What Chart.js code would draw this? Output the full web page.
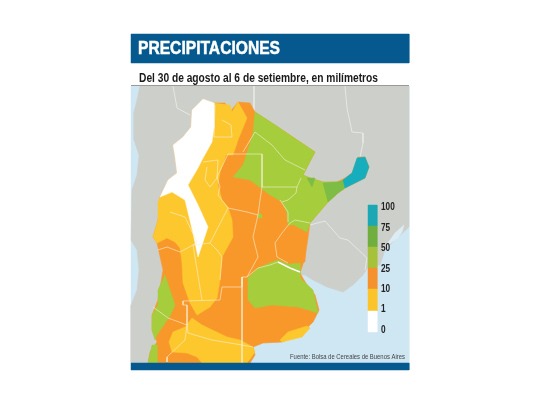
<!DOCTYPE html>
<html><head><meta charset="utf-8">
<style>html,body{margin:0;padding:0;background:#fff}canvas{display:block}</style>
<script src="https://cdn.jsdelivr.net/npm/chart.js@4"></script>
</head><body><canvas id="c" width="540" height="405"></canvas>
<script>
// Chart text
const titleText = "PRECIPITACIONES";
const subtitleText = "Del 30 de agosto al 6 de setiembre, en milímetros";
const sourceText = "Fuente: Bolsa de Cereales de Buenos Aires";
// Legend scale
const legendLabels = ["100","75","50","25","10","1","0"];
const legendEdges = [205,226,247,268,289,311,332];
const legendColors = ["#1ba8b4","#6fae3f","#a6c23a","#f5922d","#fcc42b","#ffffff"];
// Frame
const frameHeader = [[131,34],[409,34],[409,63],[131,63]];
const frameFooter = [[131,363],[409,363],[409,370],[131,370]];
const frameSea = [[131,86],[409,86],[409,363],[131,363]];
const frameRule = [[131,85.5],[409,85.5]];
// Map regions
const neighbours = [[140,86],[137,100],[134,112],[134,140],[139,155],[137,175],[132,190],[131,240],[137,250],[139,270],[137,290],[131,305],[131,363],[250,363],[255,355],[253,347],[263,343],[282,342],[305,330],[313,322],[319,310],[315,295],[307,285],[300,275],[305,275],[313,280],[327,287],[343,292],[353,285],[363,275],[368,267],[380,265],[385,250],[395,240],[409,227],[409,86]];
const lagoon = [[404,225],[395,233],[385,247],[383,250],[388,245],[398,238],[402,232]];
const argentina = [[192,110],[203,99],[213,103],[225,103],[230,112],[238,102],[250,103],[255,112],[275,125],[315,152],[303,175],[310,178],[323,182],[337,182],[345,178],[352,173],[358,157],[365,157],[369,167],[365,178],[345,188],[338,193],[328,202],[310,223],[308,238],[305,258],[300,273],[307,285],[315,295],[319,310],[313,322],[305,330],[282,342],[263,343],[253,347],[255,355],[250,363],[148,363],[150,352],[157,342],[152,330],[152,315],[158,300],[163,270],[157,243],[153,237],[158,220],[160,197],[168,180],[177,173],[175,157],[173,145],[183,137],[191,127]];
const greenNorth = [[255,112],[275,125],[315,152],[303,175],[310,178],[323,182],[337,182],[345,188],[338,193],[328,202],[310,223],[307,232],[293,225],[288,225],[287,213],[282,202],[270,195],[250,180],[233,177],[243,165],[247,153],[253,133]];
const greenPatchA = [[307,178],[315,178],[312,187]];
const greenPatchB = [[323,183],[337,182],[345,180],[345,188],[338,193],[328,202]];
const teal = [[357,158],[365,157],[369,167],[365,178],[345,188],[343,180],[352,173]];
const orangeEntreRios = [[293,225],[306,233],[305,262],[288,263],[279,258],[275,243],[282,233]];
const greenPampa = [[278,260],[288,264],[300,263],[300,278],[313,290],[318,313],[298,307],[272,305],[255,308],[248,300],[248,278],[258,268],[272,262]];
const yellowCentre = [[213,103],[230,105],[232,112],[238,102],[247,118],[238,140],[233,155],[226,155],[220,172],[218,185],[222,200],[228,207],[232,220],[233,237],[222,257],[220,280],[217,298],[210,307],[197,315],[190,303],[183,283],[182,263],[180,248],[175,242],[167,238],[157,243],[153,237],[158,220],[158,202],[160,197],[172,190],[188,185],[198,168],[202,160],[212,142],[214,128]];
const whiteCentre = [[192,110],[203,99],[214,103],[214,128],[212,142],[202,160],[198,168],[188,185],[198,205],[208,227],[198,257],[193,233],[185,200],[172,192],[160,197],[168,180],[177,173],[175,157],[173,145],[183,137],[191,127]];
const yellowSouth = [[192,318],[202,325],[227,337],[240,340],[253,347],[255,352],[247,363],[202,363],[197,357],[187,353],[172,352],[169,342],[173,332],[185,327]];
const yellowCoast = [[280,340],[288,332],[307,326],[310,328],[302,337],[282,342]];
const greenWest = [[165,275],[170,290],[175,305],[170,316],[157,335],[155,340],[152,330],[152,315],[158,305],[158,290]];
const greenTip = [[152,345],[157,345],[157,363],[148,363]];
const greenDot = [[260,216]];
// Borders
const borderLines = [
 [[173,86],[177,108],[190,115]],
 [[254,86],[254,110]],
 [[345,86],[347,108],[352,132],[363,133],[363,143],[360,157]],
 [[310,225],[325,221],[340,238],[348,240],[367,258],[365,270]],
 [[255,132],[272,145],[285,160],[305,170]],
 [[255,132],[243,152]],
 [[228,154],[262,154],[262,187],[260,200],[258,215],[253,237],[258,257],[247,277],[242,277],[242,287],[222,287],[220,300],[183,301],[183,305],[187,305],[187,325]],
 [[262,187],[297,187],[301,178]],
 [[297,187],[296,193],[288,200],[282,202]],
 [[228,154],[217,177],[220,187],[218,195],[228,208]],
 [[215,105],[214,137],[232,137],[231,125],[222,120]],
 [[203,162],[218,160],[217,178],[210,187],[205,180],[207,167]],
 [[242,277],[242,363]],
 [[288,263],[277,257],[275,243],[282,233],[290,223],[295,220],[310,223]],
 [[288,222],[288,212],[280,200]],
 [[228,208],[247,212],[258,215]],
 [[228,208],[210,243],[217,250],[222,257],[220,280]],
 [[170,212],[185,217],[197,242],[193,245],[202,300]],
 [[158,250],[167,247],[180,252],[193,245],[210,243]],
 [[153,307],[168,318],[187,325],[188,333],[212,340],[242,345],[253,347]],
 [[187,325],[185,340],[167,357],[167,362]],
 [[247,277],[258,268],[270,265],[278,262]]
];
const coastBorder = [[278,262],[290,268],[300,272]];

const toPts = a => a.map(p => ({x:p[0], y:p[1]}));
const poly = (a,color) => ({type:'scatter',showLine:true,data:toPts(a.concat([a[0]])),fill:'shape',backgroundColor:color,borderColor:color,borderWidth:0.5,pointRadius:0,pointHoverRadius:0,tension:0,clip:false});
const line = (a,color,w) => ({type:'scatter',showLine:true,data:toPts(a),fill:false,borderColor:color,borderWidth:w,pointRadius:0,pointHoverRadius:0,tension:0});

const GRAY="#cdcfca",SEA="#cfe6f3",ORANGE="#f8982b",YELLOW="#fdc82e",GREEN="#a5cd3c",DGREEN="#7dbd45",TEAL="#16aebd",PALE="rgba(250,240,215,0.75)";
const layers = [
 poly(frameSea,SEA), poly(neighbours,GRAY), poly(lagoon,"#dcecf3"),
 line(borderLines[0],"#e6e8e3",1), line(borderLines[1],"#e6e8e3",1), line(borderLines[2],"#e6e8e3",1), line(borderLines[3],"#e6e8e3",1),
 poly(argentina,ORANGE), poly(greenNorth,GREEN), poly(greenPatchA,DGREEN), poly(greenPatchB,DGREEN), poly(teal,TEAL),
 poly(greenPampa,GREEN), poly(orangeEntreRios,ORANGE),
 poly(yellowCentre,YELLOW), poly(whiteCentre,"#ffffff"), poly(yellowSouth,YELLOW), poly(yellowCoast,YELLOW),
 poly(greenWest,GREEN), poly(greenTip,GREEN),
 {type:'scatter',data:toPts(greenDot),pointRadius:2.5,backgroundColor:GREEN,borderWidth:0},
 ...borderLines.slice(4).map(b=>line(b,PALE,0.8)),
 line(coastBorder,"#ffffff",1.4),
 poly(frameHeader,"#05598f"), poly(frameFooter,"#05598f"),
 line(frameRule,"#9a9a96",1),
 ...legendColors.map((col,i)=>poly([[368,legendEdges[i]],[377,legendEdges[i]],[377,legendEdges[i+1]],[368,legendEdges[i+1]]],col))
];
layers.forEach((d,i)=>{d.order = layers.length-i;});

const narrow = (ctx,text,px,py,font,color,targetW,heavy) => {
  ctx.save();
  ctx.font = font; ctx.fillStyle = color; ctx.textAlign='left'; ctx.textBaseline='alphabetic';
  const k = targetW / ctx.measureText(text).width;
  ctx.translate(px,py); ctx.scale(k,1);
  if (heavy) { ctx.strokeStyle = color; ctx.lineWidth = heavy; ctx.strokeText(text,0,0); }
  ctx.fillText(text,0,0);
  ctx.restore();
};
const textPlugin = {id:'texts',afterDatasetsDraw(chart){
  const {ctx,scales:{x,y}} = chart;
  const F='"Liberation Sans"';
  narrow(ctx,titleText,x.getPixelForValue(138),y.getPixelForValue(53.5),`bold 18.5px ${F}`,'#ffffff',142,0.5);
  narrow(ctx,subtitleText,x.getPixelForValue(139),y.getPixelForValue(82.3),`bold 12px ${F}`,'#1a1a1a',239);
  narrow(ctx,sourceText,x.getPixelForValue(290),y.getPixelForValue(358.7),`7.2px ${F}`,'#444444',115);
  const ly=[210,230.7,251,271.7,291.7,312,332.7];
  const lw=[13.7,9.2,9.2,9.2,9.2,4.6,4.6];
  legendLabels.forEach((t,i)=>narrow(ctx,t,x.getPixelForValue(381),y.getPixelForValue(ly[i]),`bold 10px ${F}`,'#222222',lw[i]));
}};

new Chart(document.getElementById('c'),{
  type:'scatter',
  data:{datasets:layers},
  options:{
    responsive:false,animation:false,events:[],
    layout:{padding:0,autoPadding:false},
    plugins:{legend:{display:false},tooltip:{enabled:false}},
    scales:{x:{type:'linear',min:0,max:540,display:false},y:{type:'linear',min:0,max:405,reverse:true,display:false}}
  },
  plugins:[textPlugin]
});
</script></body></html>
